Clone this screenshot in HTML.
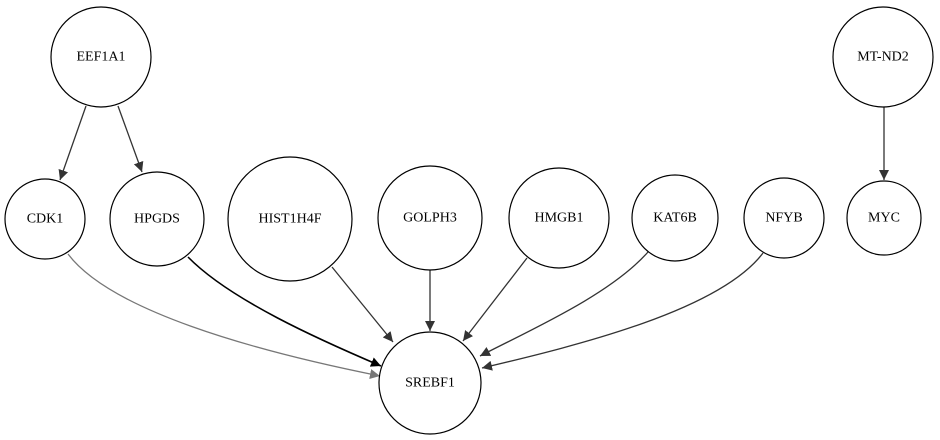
<!DOCTYPE html>
<html><head><meta charset="utf-8"><style>
html,body{margin:0;padding:0;background:#fff;}
svg{display:block;}
text{font-family:"Liberation Serif",serif;font-size:14px;text-anchor:middle;dominant-baseline:central;fill:#000;}
</style></head><body>
<svg width="940" height="440" viewBox="0 0 940 440" xmlns="http://www.w3.org/2000/svg">
<defs>
<marker id="a" viewBox="0 0 10 10" refX="10" refY="5" markerWidth="10" markerHeight="10" markerUnits="userSpaceOnUse" orient="auto"><path d="M0,0L10,5L0,10z" fill="#333"/></marker>
<marker id="b" viewBox="0 0 10 10" refX="10" refY="5" markerWidth="10" markerHeight="10" markerUnits="userSpaceOnUse" orient="auto"><path d="M0,0L10,5L0,10z" fill="#000"/></marker>
<marker id="g" viewBox="0 0 10 10" refX="10" refY="5" markerWidth="10" markerHeight="10" markerUnits="userSpaceOnUse" orient="auto"><path d="M0,0L10,5L0,10z" fill="#777"/></marker>
</defs>
<g fill="none" stroke-width="1.3">
<path d="M86,106 L60,180" stroke="#333" marker-end="url(#a)"/>
<path d="M118,106 L142,172" stroke="#333" marker-end="url(#a)"/>
<path d="M884,107 L884,180" stroke="#333" marker-end="url(#a)"/>
<path d="M68,254 C110,310 250,350 380,376" stroke="#777" marker-end="url(#g)"/>
<path d="M188,257 C230,300 320,340 381,366" stroke="#000" stroke-width="1.6" marker-end="url(#b)"/>
<path d="M332,267 L393,342" stroke="#333" marker-end="url(#a)"/>
<path d="M430,270 L430,331" stroke="#333" marker-end="url(#a)"/>
<path d="M527,258 L463,341" stroke="#333" marker-end="url(#a)"/>
<path d="M648,252 C610,295 530,330 480,356" stroke="#333" marker-end="url(#a)"/>
<path d="M763,253 C720,310 580,345 482,368" stroke="#333" marker-end="url(#a)"/>
</g>
<g fill="#fff" stroke="#000" stroke-width="1.2">
<circle cx="101" cy="57" r="50"/>
<circle cx="883" cy="57" r="50"/>
<circle cx="45" cy="219" r="40"/>
<circle cx="157" cy="219" r="47"/>
<circle cx="290" cy="219" r="62"/>
<circle cx="430" cy="218" r="52"/>
<circle cx="559" cy="218" r="50"/>
<circle cx="675" cy="218" r="43"/>
<circle cx="784" cy="218" r="40"/>
<circle cx="884" cy="218" r="37"/>
<circle cx="430" cy="383" r="51"/>
</g>
<text x="101" y="57">EEF1A1</text>
<text x="883" y="57">MT-ND2</text>
<text x="45" y="219">CDK1</text>
<text x="157" y="219">HPGDS</text>
<text x="290" y="219">HIST1H4F</text>
<text x="430" y="218">GOLPH3</text>
<text x="559" y="218">HMGB1</text>
<text x="675" y="218">KAT6B</text>
<text x="784" y="218">NFYB</text>
<text x="884" y="218">MYC</text>
<text x="430" y="383">SREBF1</text>
</svg>
</body></html>
